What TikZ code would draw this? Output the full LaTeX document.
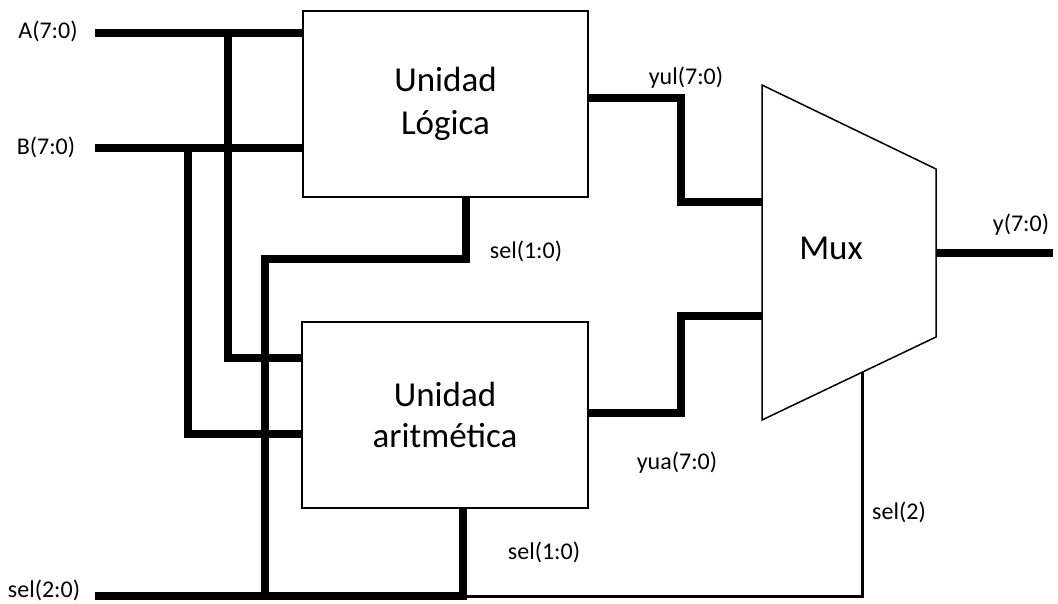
\documentclass[tikz,border=0pt]{standalone}
\usepackage{fontspec}
\setmainfont{Carlito}
\usetikzlibrary{calc}
\begin{document}
\begin{tikzpicture}[x=1pt,y=1pt,
  unitbox/.style={draw,line width=1.5pt,minimum width=285pt,minimum height=186pt,outer sep=0pt,align=center,inner sep=0pt,font=\fontsize{35}{43}\selectfont},
  bus/.style={line width=8pt,line join=miter},
  wire/.style={line width=3pt,line join=miter},
  lbl/.style={font=\fontsize{24}{28}\selectfont,inner sep=0pt},
  muxshape/.style={draw,line width=1.5pt,line join=miter}]
\useasboundingbox (0,0) rectangle (1058,-604);
% units
\node[unitbox] (lu) at (445.5,-104) {Unidad\\Lógica};
\node[unitbox,minimum width=286pt] (au) at (445,-415) {Unidad\\[-2pt]aritmética};
% mux
\coordinate (mtl) at (762,-85);
\coordinate (mtr) at (936,-169);
\coordinate (mbr) at (936,-337);
\coordinate (mbl) at (762,-420);
\draw[muxshape] (mtl) -- (mtr) -- (mbr) -- (mbl) -- cycle;
\node[font=\fontsize{35}{43}\selectfont,inner sep=0pt] (muxt) at (831,-248) {Mux};
% inputs
\coordinate (ain) at (95,-33.5);
\coordinate (bin) at (95,-148);
\coordinate (sin) at (95,-596);
\node[lbl] (la) at (48,-31) {A(7:0)};
\node[lbl] (lb) at (46,-147) {B(7:0)};
\node[lbl] (ls) at (44,-590) {sel(2:0)};
% A bus
\coordinate (aj) at (227.5,-33.5);
\coordinate (aa) at (302,-358);
\draw[bus] (ain) -- (ain -| lu.west);
\draw[bus] (aj) |- (aa);
% B bus
\coordinate (bj) at (188,-148);
\coordinate (ba) at (302,-434);
\draw[bus] (bin) -- (bin -| lu.west);
\draw[bus] (bj) |- (ba);
% sel buses
\coordinate (lus) at (465.6,-197);
\coordinate (sk) at (265,-259);
\coordinate (sb) at (265,-596);
\coordinate (aus) at (463,-508);
\coordinate (sc) at (463,-596);
\coordinate (mxs) at (862,-372);
\draw[bus] (lus) |- (sk) -- (sb);
\draw[bus] (aus) -- (sc) -- (sin);
\draw[wire] (sc) -| (mxs);
% outputs of units
\coordinate (yul0) at (588,-97.7);
\coordinate (yul1) at (681,-97.7);
\coordinate (yul2) at (762,-202);
\draw[bus] (yul0) -- (yul1) |- (yul2);
\coordinate (yua0) at (588,-413);
\coordinate (yua1) at (681,-315.7);
\coordinate (yua2) at (762,-315.7);
\draw[bus] (yua2) -- (yua1) |- (yua0);
% output
\coordinate (yo0) at (937,-253);
\coordinate (yo1) at (1053,-253);
\draw[bus] (yo0) -- (yo1);
% labels
\node[lbl] (lyul) at (686,-78) {yul(7:0)};
\node[lbl] (lsel1) at (526,-251) {sel(1:0)};
\node[lbl] (lyua) at (677,-463) {yua(7:0)};
\node[lbl] (lsel2) at (544,-552) {sel(1:0)};
\node[lbl] (lsel3) at (899,-512) {sel(2)};
\node[lbl] (ly) at (1021,-225) {y(7:0)};
\end{tikzpicture}
\end{document}
